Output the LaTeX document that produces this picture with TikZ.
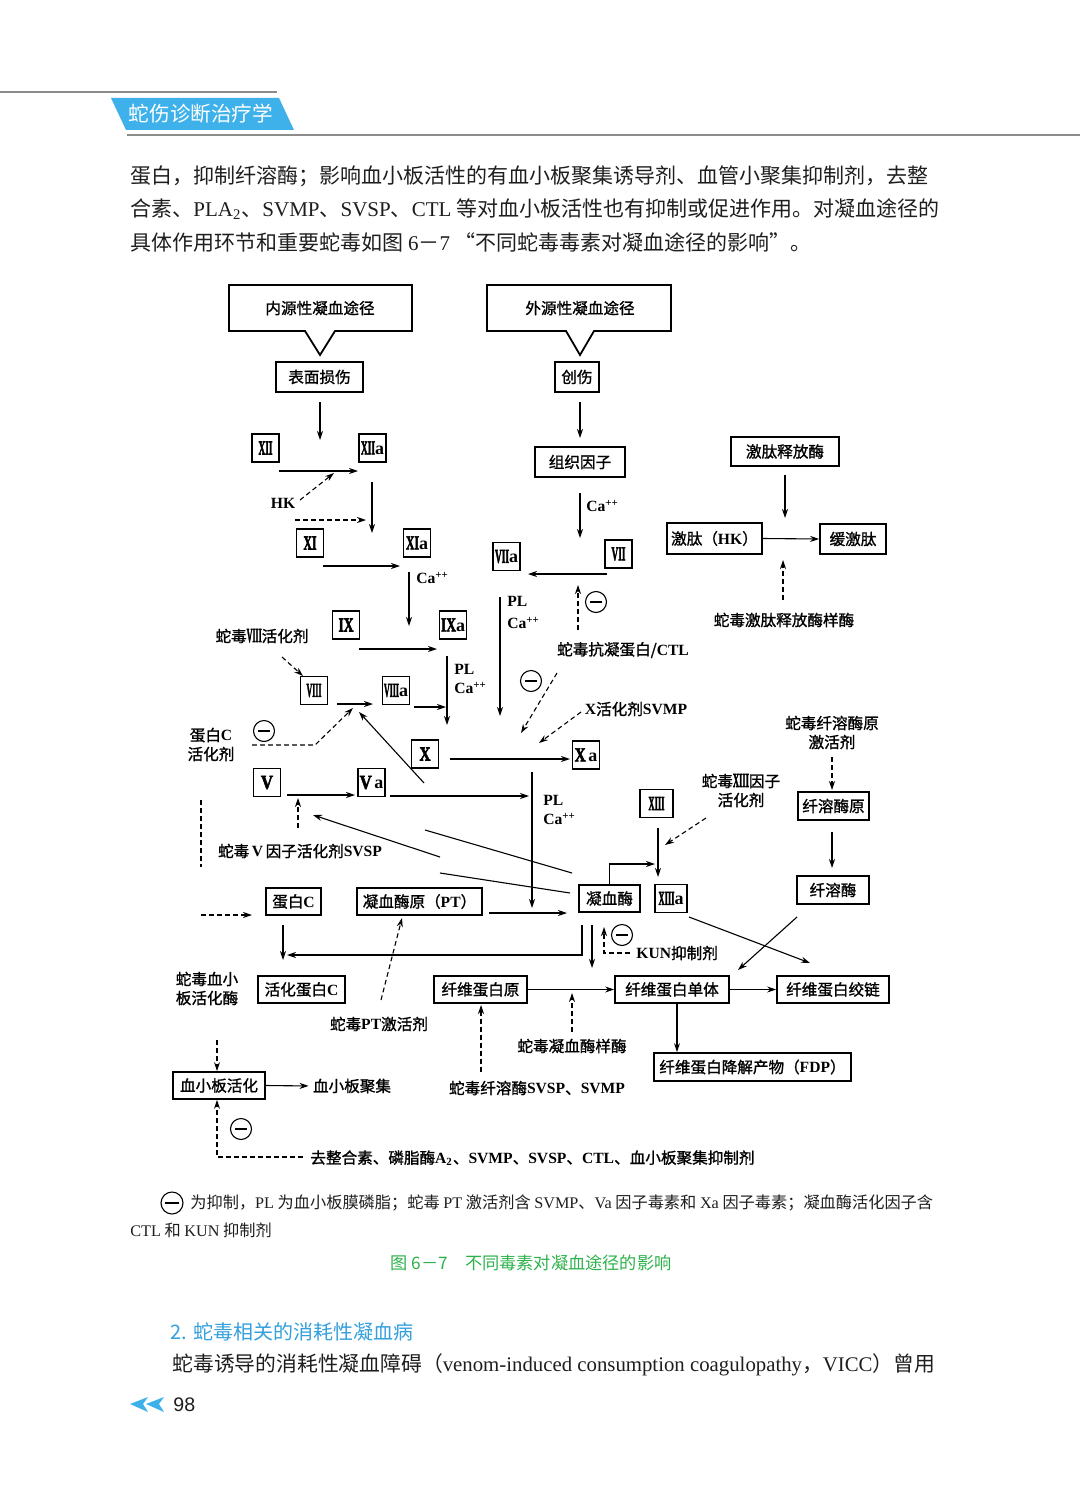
\documentclass[tikz,border=0pt]{standalone}
\usepackage{fontspec}
\usepackage{graphicx}
\usetikzlibrary{arrows.meta}
\setmainfont{Liberation Serif}
\newfontfamily\cjk{Noto Sans CJK SC}
\newfontfamily\cjkb{Noto Sans CJK SC}[FakeBold=1.2]
\newfontfamily\latf{Liberation Serif}
\newfontfamily\romf{Liberation Serif}[BoldFeatures={FakeBold=3}]
\newfontfamily\sansf{Liberation Sans}
\definecolor{tabblue}{RGB}{62,177,234}
\definecolor{capgreen}{RGB}{45,178,75}
\definecolor{headblue}{RGB}{52,160,220}
\definecolor{txt}{RGB}{30,30,30}
\definecolor{hdr}{RGB}{140,140,140}
\newcommand\DgFont{\cjkb\fontsize{7.8}{9.5}\selectfont}
\newcommand\LatB[1]{{\latf\bfseries #1}}
\newcommand\LatR[1]{{\latf #1}}
\newcommand\RomN[2]{\resizebox{#1pt}{6.5pt}{\romf\bfseries #2}}
\newcommand\CaPP{\LatB{Ca\textsuperscript{++}}}
\newcommand\SufA{{\latf\bfseries\fontsize{9}{9}\selectfont a}}
\tikzset{
  bx/.style={draw, line width=0.9pt, inner sep=0pt, font=\DgFont, minimum height=14pt},
  nb/.style={bx, minimum width=13.5pt, minimum height=14pt},
  lab/.style={inner sep=0pt, font=\DgFont, align=center},
  arr/.style={line width=0.55pt, -{Stealth[length=4.5pt,width=3pt]}},
  ln/.style={line width=0.55pt},
  darr/.style={arr, dash pattern=on 2.4pt off 1.6pt},
  dln/.style={ln, dash pattern=on 2.4pt off 1.6pt},
  callout/.style={draw, line width=0.9pt},
  mc/.style={circle, draw, line width=0.55pt, minimum size=10.5pt, inner sep=0pt,
    path picture={\draw[line width=0.6pt] ([xshift=2.2pt]path picture bounding box.west) -- ([xshift=-2.2pt]path picture bounding box.east);}},
  body/.style={inner sep=0pt, font=\cjk\fontsize{10.5}{12}\selectfont, text=txt},
  hdrline/.style={draw=hdr, line width=0.8pt},
}
\begin{document}
\begin{tikzpicture}[x=0.5pt,y=-0.5pt]
\useasboundingbox (0,0) rectangle (1080,1504);
\fill[white] (0,0) rectangle (1080,1504);

% ---------- running head
\draw[hdrline] (0,92) -- (277,92);
\fill[tabblue] (111,98) -- (279,98) -- (294,130) -- (126,130) -- cycle;
\node[font=\cjk\fontsize{10.3}{12}\selectfont, text=white, inner sep=0pt] (runhead) at (201,114) {蛇伤诊断治疗学};
\draw[hdrline] (127,135) -- (1080,135);

% ---------- body text
\node[body, anchor=west] (p1) at (130,176) {蛋白，抑制纤溶酶；影响血小板活性的有血小板聚集诱导剂、血管小聚集抑制剂，去整};
\node[body, anchor=west] (p2) at (130,209) {合素、\LatR{PLA\textsubscript{2}}、\LatR{SVMP}、\LatR{SVSP}、\LatR{CTL} 等对血小板活性也有抑制或促进作用。对凝血途径的};
\node[body, anchor=west] (p3) at (130,242) {具体作用环节和重要蛇毒如图 \LatR{6}－\LatR{7} “不同蛇毒毒素对凝血途径的影响”。};

% ---------- diagram: callouts
\draw[callout] (229,285) -- (412,285) -- (412,331) -- (335,331) -- (320,355) -- (305,331) -- (229,331) -- cycle;
\node[lab] (nei) at (320,308) {内源性凝血途径};
\draw[callout] (487,285) -- (671,285) -- (671,331) -- (594,331) -- (580,355) -- (566,331) -- (487,331) -- cycle;
\node[lab] (wai) at (580,308) {外源性凝血途径};

% ---------- boxes
\node[bx, minimum width=43.5pt, minimum height=15pt] (bmss) at (319.5,377) {表面损伤};
\node[bx, minimum width=22pt, minimum height=15pt] (cs) at (577,377) {创伤};
\node[nb] (f12) at (265.5,448) {\RomN{7}{XII}};
\node[nb] (f12a) at (372.5,448) {\RomN{7}{XII}\SufA};
\node[nb] (f11) at (310,543) {\RomN{6.5}{XI}};
\node[nb] (f11a) at (417,543) {\RomN{6.5}{XI}\SufA};
\node[nb] (f9) at (346,625) {\RomN{7.5}{IX}};
\node[nb] (f9a) at (453,625) {\RomN{7.5}{IX}\SufA};
\node[nb] (f8) at (314,690.5) {\RomN{7.5}{VIII}};
\node[nb] (f8a) at (396,690.5) {\RomN{7.5}{VIII}\SufA};
\node[nb] (f10) at (425,754) {\RomN{5.5}{X}};
\node[nb] (f10a) at (586,755) {\RomN{5.5}{X}\,\SufA};
\node[nb] (f5) at (267,782.5) {\RomN{6}{V}};
\node[nb] (f5a) at (371.5,782.5) {\RomN{6}{V}\,\SufA};
\node[nb] (f7a) at (506.5,556.5) {\RomN{7}{VII}\SufA};
\node[nb] (f7) at (618.5,554) {\RomN{7}{VII}};
\node[nb, minimum width=16.5pt] (f13) at (656.5,803.5) {\RomN{8}{XIII}};
\node[nb, minimum width=16pt] (f13a) at (671,898.5) {\RomN{8}{XIII}\SufA};
\node[bx, minimum width=45pt, minimum height=15pt] (zzyz) at (580,462) {组织因子};
\node[bx, minimum width=54pt, minimum height=14.5pt] (jtsfm) at (785,451.5) {激肽释放酶};
\node[bx, minimum width=47.5pt, minimum height=15.5pt] (jt) at (714.5,538.5) {激肽（\LatB{HK}）};
\node[bx, minimum width=33pt, minimum height=15pt] (hjt) at (853,539) {缓激肽};
\node[bx, minimum width=35.5pt, minimum height=14pt] (xrmy) at (833.5,806) {纤溶酶原};
\node[bx, minimum width=36pt, minimum height=14pt] (xrm) at (833,890) {纤溶酶};
\node[bx, minimum width=27.5pt, minimum height=13.5pt] (dbc) at (293.5,901.5) {蛋白\LatB{C}};
\node[bx, minimum width=62.5pt, minimum height=13.5pt] (pt) at (419.5,901.5) {凝血酶原（\LatB{PT}）};
\node[bx, minimum width=30.5pt, minimum height=13.5pt] (nxm) at (609.5,898.5) {凝血酶};
\node[bx, minimum width=43.5pt, minimum height=13.5pt] (hhdbc) at (301.5,989.5) {活化蛋白\LatB{C}};
\node[bx, minimum width=46.5pt, minimum height=13.5pt] (xwdby) at (480.5,989.5) {纤维蛋白原};
\node[bx, minimum width=57pt, minimum height=13.5pt] (xwdt) at (672,989.5) {纤维蛋白单体};
\node[bx, minimum width=56pt, minimum height=13.5pt] (xwjl) at (833,989.5) {纤维蛋白绞链};
\node[bx, minimum width=98.5pt, minimum height=14pt] (fdp) at (752.5,1067) {纤维蛋白降解产物（\LatB{FDP}）};
\node[bx, minimum width=46pt, minimum height=13.5pt] (xxb) at (219,1085.5) {血小板活化};

% ---------- labels
\node[lab] (hk) at (283,503) {\LatB{HK}};
\node[lab, anchor=west] (ca1) at (416,578) {\CaPP};
\node[lab] (s8) at (262,636) {蛇毒\RomN{7.5}{VIII}活化剂};
\node[lab, anchor=west] (pl1) at (454,669) {\LatB{PL}};
\node[lab, anchor=west] (ca2) at (454,688) {\CaPP};
\node[lab, anchor=west] (pl2) at (507,601) {\LatB{PL}};
\node[lab, anchor=west] (ca3) at (507,623) {\CaPP};
\node[lab] (pcact) at (211,744.5) {蛋白\LatB{C}\\活化剂};
\node[lab, anchor=west] (ca4) at (586,506) {\CaPP};
\node[lab] (sjtl) at (784,620) {蛇毒激肽释放酶样酶};
\node[lab] (skn) at (623,650) {蛇毒抗凝蛋白/\LatB{CTL}};
\node[lab] (xsvmp) at (636,709) {\LatB{X}活化剂\LatB{SVMP}};
\node[lab] (sxrmy) at (832,732.5) {蛇毒纤溶酶原\\激活剂};
\node[lab] (s13) at (741,790.5) {蛇毒\RomN{8}{XIII}因子\\活化剂};
\node[lab] (s5) at (300,851) {蛇毒\,\LatB{V}\,因子活化剂\LatB{SVSP}};
\node[lab, anchor=west] (pl3) at (543,800) {\LatB{PL}};
\node[lab, anchor=west] (ca5) at (543,819) {\CaPP};
\node[lab] (sxxb) at (207,988.5) {蛇毒血小\\板活化酶};
\node[lab] (sptj) at (379,1024) {蛇毒\LatB{PT}激活剂};
\node[lab] (snxml) at (572,1046) {蛇毒凝血酶样酶};
\node[lab] (sxrm) at (537,1088) {蛇毒纤溶酶\LatB{SVSP}、\LatB{SVMP}};
\node[lab] (xxbjj) at (352,1086) {血小板聚集};
\node[lab, anchor=west] (kun) at (636,953) {\LatB{KUN}抑制剂};
\node[lab, anchor=west] (qzh) at (310,1158) {去整合素、磷脂酶\LatB{A\textsubscript{2}}、\LatB{SVMP}、\LatB{SVSP}、\LatB{CTL}、血小板聚集抑制剂};

% ---------- minus circles
\node[mc] (m1) at (264,731) {};
\node[mc] (m2) at (596,602) {};
\node[mc] (m3) at (531,681) {};
\node[mc] (m4) at (622,935) {};
\node[mc] (m5) at (241,1129) {};

% ---------- connector coordinates
\coordinate (k1) at (320,402); \coordinate (k2) at (320,440);
\coordinate (k3) at (279,471); \coordinate (k4) at (358,471);
\coordinate (k5) at (300,500); \coordinate (k6) at (334,473);
\coordinate (k7) at (372,482); \coordinate (k8) at (372,533);
\coordinate (k9) at (295,520); \coordinate (k10) at (366,520);
\coordinate (k11) at (323,566); \coordinate (k12) at (400,566);
\coordinate (k13) at (409,572); \coordinate (k14) at (409,626);
\coordinate (k15) at (359,649); \coordinate (k16) at (437,649);
\coordinate (k17) at (282,657); \coordinate (k18) at (303,676);
\coordinate (k19) at (337,704); \coordinate (k20) at (373,704);
\coordinate (k21) at (414,707); \coordinate (k22) at (446,707);
\coordinate (k23) at (447,656); \coordinate (k24) at (447,725);
\coordinate (k25) at (500,597); \coordinate (k26) at (500,716);
\coordinate (k27) at (607,574); \coordinate (k28) at (528,574);
\coordinate (k29) at (580,402); \coordinate (k30) at (580,438);
\coordinate (k31) at (580,493); \coordinate (k32) at (580,538);
\coordinate (k33) at (785,475); \coordinate (k34) at (785,518);
\coordinate (k35) at (783,600); \coordinate (k36) at (783,560);
\coordinate (k37) at (578,630); \coordinate (k38) at (578,585);
\coordinate (k39) at (557,673); \coordinate (k40) at (521,733);
\coordinate (k41) at (581,712); \coordinate (k42) at (539,743);
\coordinate (k43) at (252,745); \coordinate (k44) at (315,745); \coordinate (k45) at (353,708);
\coordinate (k46) at (424,783); \coordinate (k47) at (359,712);
\coordinate (k48) at (450,759); \coordinate (k49) at (570,759);
\coordinate (k50) at (287,795); \coordinate (k51) at (355,795);
\coordinate (k52) at (390,796); \coordinate (k53) at (529,796);
\coordinate (k54) at (532,772); \coordinate (k55) at (532,908);
\coordinate (k56) at (298,828); \coordinate (k57) at (298,798);
\coordinate (k58) at (440,857); \coordinate (k59) at (313,815);
\coordinate (k60) at (572,873); \coordinate (k61) at (425,830);
\coordinate (k62) at (570,893); \coordinate (k63) at (440,873);
\coordinate (k64) at (201,800); \coordinate (k65) at (201,867);
\coordinate (k66) at (201,915); \coordinate (k67) at (252,915);
\coordinate (k68) at (489,913); \coordinate (k69) at (567,913);
\coordinate (k70) at (658,828); \coordinate (k71) at (658,877);
\coordinate (k72) at (706,818); \coordinate (k73) at (665,845);
\coordinate (k74) at (609.5,864); \coordinate (k75) at (655,864);
\coordinate (k76) at (832,757); \coordinate (k77) at (832,790);
\coordinate (k78) at (832,832); \coordinate (k79) at (832,868);
\coordinate (k80) at (592,925); \coordinate (k81) at (592,968);
\coordinate (k82) at (630,953); \coordinate (k83) at (604,953); \coordinate (k84) at (604,927);
\coordinate (k85) at (582,925); \coordinate (k86) at (582,955); \coordinate (k87) at (287,955);
\coordinate (k88) at (283,925); \coordinate (k89) at (283,960);
\coordinate (k90) at (381,1000); \coordinate (k91) at (402,918);
\coordinate (k92) at (572,1032); \coordinate (k93) at (572,993);
\coordinate (k94) at (481,1072); \coordinate (k95) at (481,1005);
\coordinate (k96) at (689,917); \coordinate (k97) at (810,963);
\coordinate (k98) at (797,917); \coordinate (k99) at (738,970);
\coordinate (k100) at (217,1040);
\coordinate (k101) at (303,1157); \coordinate (k102) at (217,1157);

% ---------- connectors
\draw[arr] (k1) -- (k2);
\draw[arr] (k3) -- (k4);
\draw[darr] (k5) -- (k6);
\draw[arr] (k7) -- (k8);
\draw[darr] (k9) -- (k10);
\draw[arr] (k11) -- (k12);
\draw[arr] (k13) -- (k14);
\draw[arr] (k15) -- (k16);
\draw[darr] (k17) -- (k18);
\draw[arr] (k19) -- (k20);
\draw[arr] (k21) -- (k22);
\draw[arr] (k23) -- (k24);
\draw[arr] (k25) -- (k26);
\draw[arr] (k27) -- (k28);
\draw[arr] (k29) -- (k30);
\draw[arr] (k31) -- (k32);
\draw[arr] (k33) -- (k34);
\draw[arr] (jt.east) -- (hjt.west);
\draw[darr] (k35) -- (k36);
\draw[darr] (k37) -- (k38);
\draw[darr] (k39) -- (k40);
\draw[darr] (k41) -- (k42);
\draw[darr] (k43) -- (k44) -- (k45);
\draw[arr] (k46) -- (k47);
\draw[arr] (k48) -- (k49);
\draw[arr] (k50) -- (k51);
\draw[arr] (k52) -- (k53);
\draw[arr] (k54) -- (k55);
\draw[darr] (k56) -- (k57);
\draw[arr] (k58) -- (k59);
\draw[ln] (k60) -- (k61);
\draw[ln] (k62) -- (k63);
\draw[dln] (k64) -- (k65);
\draw[darr] (k66) -- (k67);
\draw[arr] (k68) -- (k69);
\draw[arr] (k70) -- (k71);
\draw[darr] (k72) -- (k73);
\draw[arr] (nxm.north) -- (k74) -- (k75);
\draw[darr] (k76) -- (k77);
\draw[arr] (k78) -- (k79);
\draw[arr] (k80) -- (k81);
\draw[darr] (k82) -- (k83) -- (k84);
\draw[arr] (k85) -- (k86) -- (k87);
\draw[arr] (k88) -- (k89);
\draw[darr] (k90) -- (k91);
\draw[arr] (xwdby.east) -- (xwdt.west);
\draw[darr] (k92) -- (k93);
\draw[darr] (k94) -- (k95);
\draw[arr] (xwdt.east) -- (xwjl.west);
\draw[arr] ([xshift=2.5pt]xwdt.south) -- ([xshift=2.5pt]xwdt.south |- fdp.north);
\draw[arr] (k96) -- (k97);
\draw[arr] (k98) -- (k99);
\draw[darr] (k100) -- (k100 |- xxb.north);
\draw[arr, shorten >=2pt] (xxb.east) -- (xxbjj.west);
\draw[darr] (k101) -- (k102) -- (k102 |- xxb.south);

% ---------- legend and caption
\node[mc, minimum size=11pt] (m6) at (172,1203) {};
\node[inner sep=0pt, anchor=west, font=\cjk\fontsize{8.1}{10}\selectfont, text=txt] (leg1) at (190,1203) {为抑制，\LatR{PL} 为血小板膜磷脂；蛇毒 \LatR{PT} 激活剂含 \LatR{SVMP}、\LatR{Va} 因子毒素和 \LatR{Xa} 因子毒素；凝血酶活化因子含};
\node[inner sep=0pt, anchor=west, font=\cjk\fontsize{8.1}{10}\selectfont, text=txt] (leg2) at (130,1230) {\LatR{CTL} 和 \LatR{KUN} 抑制剂};
\node[inner sep=0pt, font=\cjk\fontsize{8.6}{10}\selectfont, text=capgreen] (cap) at (531,1263) {图 6－7\quad 不同毒素对凝血途径的影响};

% ---------- next section
\node[inner sep=0pt, anchor=west, font=\cjk\fontsize{10}{12}\selectfont, text=headblue] (sec) at (170,1332) {2. 蛇毒相关的消耗性凝血病};
\node[body, anchor=west, font=\cjk\fontsize{10.4}{12}\selectfont] (p4) at (172,1365) {蛇毒诱导的消耗性凝血障碍（\LatR{venom-induced consumption coagulopathy}，\LatR{VICC}）曾用};

% ---------- folio
\fill[tabblue] (130,1404) -- (148,1397) -- (143,1404) -- (148,1412) -- cycle;
\fill[tabblue] (146,1404) -- (164,1397) -- (159,1404) -- (164,1412) -- cycle;
\node[inner sep=0pt, anchor=west, font=\sansf\fontsize{9.8}{11}\selectfont, text=txt] (folio) at (173,1405) {98};
\end{tikzpicture}
\end{document}
